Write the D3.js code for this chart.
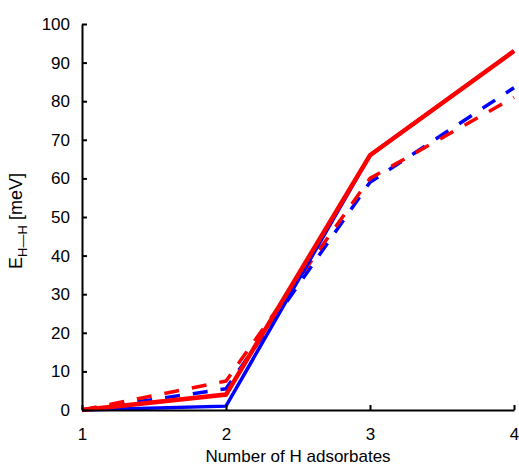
<!DOCTYPE html>
<html>
<head>
<meta charset="utf-8">
<script src="https://cdn.jsdelivr.net/npm/d3@7"></script>
<style>
  body { margin: 0; background: white; }
  text { font-family: "Liberation Sans", Arial, sans-serif; }
</style>
</head>
<body>
<div id="container"></div>
<script>
let w = 519;
let h = 467;

// data
let xValues = [1, 2, 3, 4];
let redSolid = [0, 4, 66, 93];
let blueSolid = [0, 1, 66, 93];
let redDashed = [0, 7.5, 60, 81];
let blueDashed = [0, 5.5, 59, 83.5];
let xTicks = [1, 2, 3, 4];
let yTicks = [0, 10, 20, 30, 40, 50, 60, 70, 80, 90, 100];

let viz = d3.select("#container")
    .append("svg")
      .attr("width", w)
      .attr("height", h)
      .style("background-color", "white");

let xScale = d3.scaleLinear().domain([1, 4]).range([82, 514]);
let yScale = d3.scaleLinear().domain([0, 100]).range([410, 24]);

let line = d3.line()
    .x(function(d, i){ return xScale(xValues[i]); })
    .y(function(d){ return yScale(d); });

let series = [
  { values: blueDashed, color: "#0000ff", dash: "15,13", width: 3.5 },
  { values: redDashed, color: "#ff0000", dash: "15,13", width: 3.5 },
  { values: blueSolid, color: "#0000ff", dash: null, width: 3.5 },
  { values: redSolid, color: "#ff0000", dash: null, width: 4.5 }
];

series.forEach(function(s){
  viz.append("path")
      .attr("d", line(s.values))
      .attr("fill", "none")
      .attr("stroke", s.color)
      .attr("stroke-width", s.width)
      .attr("stroke-dasharray", s.dash);
});

// axes, ticks pointing inward
let xAxis = d3.axisBottom(xScale).tickValues(xTicks).tickFormat(d3.format("d"))
    .tickSizeInner(-5).tickSizeOuter(0).tickPadding(18);
let xAxisGroup = viz.append("g").attr("class", "xaxis")
    .attr("transform", "translate(0, 410)")
    .call(xAxis);

let yAxis = d3.axisLeft(yScale).tickValues(yTicks)
    .tickSizeInner(-5).tickSizeOuter(0).tickPadding(12);
let yAxisGroup = viz.append("g").attr("class", "yaxis")
    .attr("transform", "translate(82, 0)")
    .call(yAxis);

viz.selectAll(".domain").attr("stroke", "black").attr("stroke-width", 2);
viz.selectAll(".tick line").attr("stroke", "black").attr("stroke-width", 2);
viz.selectAll(".tick text").attr("font-size", 17).attr("fill", "black")
    .style("font-family", "Liberation Sans, Arial, sans-serif");

viz.append("text")
    .attr("x", 298)
    .attr("y", 462)
    .attr("text-anchor", "middle")
    .attr("font-size", 17)
    .text("Number of H adsorbates");

let ylab = viz.append("text")
    .attr("transform", "translate(22, 221) rotate(-90)")
    .attr("text-anchor", "middle")
    .attr("font-size", 18);
ylab.append("tspan").text("E");
ylab.append("tspan").attr("font-size", 13).attr("dy", 5).text("H\u2014H");
ylab.append("tspan").attr("dy", -5).text(" [meV]");
</script>
</body>
</html>
